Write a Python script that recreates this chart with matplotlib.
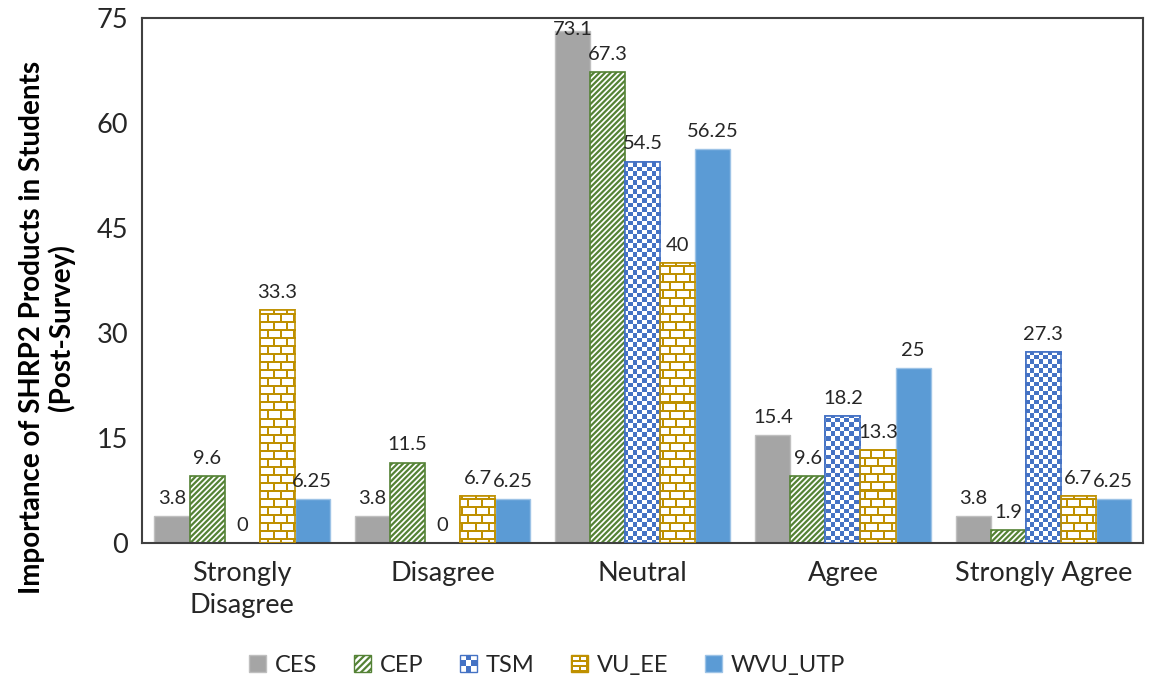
import numpy as np
import matplotlib
matplotlib.use("Agg")
import matplotlib.pyplot as plt
from matplotlib.patches import Rectangle
from matplotlib.legend_handler import HandlerBase

plt.rcParams['font.family'] = ['Lato', 'DejaVu Sans']
plt.rcParams['hatch.linewidth'] = 1.6

categories = ["Strongly\nDisagree", "Disagree", "Neutral", "Agree", "Strongly Agree"]
series = ["CES", "CEP", "TSM", "VU_EE", "WVU_UTP"]
ces = [3.8, 3.8, 73.1, 15.4, 3.8]
cep = [9.6, 11.5, 67.3, 9.6, 1.9]
tsm = [0, 0, 54.5, 18.2, 27.3]
vu_ee = [33.3, 6.7, 40, 13.3, 6.7]
wvu_utp = [6.25, 6.25, 56.25, 25, 6.25]
label_text = [
    ["3.8", "3.8", "73.1", "15.4", "3.8"],
    ["9.6", "11.5", "67.3", "9.6", "1.9"],
    ["0", "0", "54.5", "18.2", "27.3"],
    ["33.3", "6.7", "40", "13.3", "6.7"],
    ["6.25", "6.25", "56.25", "25", "6.25"],
]
yticks = [0, 15, 30, 45, 60, 75]

GREY = '#A5A5A5'
GREEN = '#548235'
BLUE = '#4472C4'
GOLD = '#BF9000'
LBLUE = '#5B9BD5'
TXT = '#262626'


def rgba(hexcol):
    return np.array(matplotlib.colors.to_rgba(hexcol))


def checker_texture(h, w, cell=4.5):
    yy, xx = np.mgrid[0:h, 0:w]
    mask = ((np.floor(yy / cell) + np.floor(xx / cell)) % 2).astype(bool)
    tex = np.ones((h, w, 4))
    tex[mask] = rgba(BLUE)
    return tex


def brick_texture(h, w, bh=8, bw=13, line=2):
    yy, xx = np.mgrid[0:h, 0:w]
    row = yy // bh
    horiz = (yy % bh) < line
    shift = (row % 2) * (bw // 2)
    vert = ((xx + shift) % bw) < line
    tex = np.ones((h, w, 4))
    tex[horiz | vert] = rgba(GOLD)
    return tex


fig = plt.figure(figsize=(11.59, 6.87), dpi=100)
ax = fig.add_axes([0.1225, 0.2096, 0.864, 0.7642])

n = len(categories)
x = np.arange(n)
bw = 0.175
offsets = (np.arange(5) - 2) * bw
values = [ces, cep, tsm, vu_ee, wvu_utp]
ylim = (0, 75)
xlim = (-0.5, n - 0.5)

styles = [
    dict(facecolor=GREY, edgecolor='#BFBFBF', linewidth=1.0),
    dict(facecolor='white', edgecolor=GREEN, hatch='//////', linewidth=1.2),
    dict(facecolor='white', edgecolor=BLUE, linewidth=1.2),
    dict(facecolor='white', edgecolor=GOLD, linewidth=1.2),
    dict(facecolor=LBLUE, edgecolor='#9DC3E6', linewidth=1.0),
]

# pixel-sized textures spanning the whole axes, clipped to each bar
fig.canvas.draw()
bbox = ax.get_window_extent()
H, W = int(round(bbox.height)), int(round(bbox.width))
textures = {2: checker_texture(H, W), 3: brick_texture(H, W)}

for i, (vals, st) in enumerate(zip(values, styles)):
    bars = ax.bar(x + offsets[i], vals, width=bw, zorder=2, **st)
    for b, v in zip(bars, vals):
        if v == 0:
            b.set_visible(False)
    if i in textures:
        for b, v in zip(bars, vals):
            if v == 0:
                continue
            im = ax.imshow(textures[i], extent=[xlim[0], xlim[1], ylim[0], ylim[1]],
                           aspect='auto', interpolation='nearest', zorder=2.5, origin='upper')
            im.set_clip_path(b)
            # outline above the texture
            ax.add_patch(Rectangle(b.get_xy(), b.get_width(), b.get_height(), fill=False,
                                   edgecolor=st['edgecolor'], linewidth=st['linewidth'], zorder=3))
    for xi, v, t in zip(x, vals, label_text[i]):
        if v > ylim[1] - 5:
            # no room above the bar: hang the label just under the top frame
            ax.annotate(t, (xi + offsets[i], ylim[1]), xytext=(0, -2), textcoords='offset points',
                        ha='center', va='top', fontsize=14.5, color=TXT, zorder=5)
        else:
            ax.annotate(t, (xi + offsets[i], v), xytext=(0, 6.5), textcoords='offset points',
                        ha='center', va='bottom', fontsize=14.5, color=TXT, zorder=5)

ax.set_xlim(*xlim)
ax.set_ylim(*ylim)
ax.set_yticks(yticks)
ax.set_xticks(x)
ax.set_xticklabels(categories, fontsize=19.5, linespacing=1.35, color=TXT)
ax.tick_params(axis='y', labelsize=19.5, length=0, pad=10, labelcolor=TXT)
ax.tick_params(axis='x', length=0, pad=13)
for sp in ax.spines.values():
    sp.set_color('#404040')
    sp.set_linewidth(1.5)

ax.set_ylabel("Importance of SHRP2 Products in Students\n(Post-Survey)",
              fontsize=20, fontweight='bold', color='black', linespacing=1.1)
ax.yaxis.set_label_coords(-0.067, 0.41)


class CheckerHandler(HandlerBase):
    def __init__(self, color, n=3):
        super().__init__()
        self.color = color
        self.n = n

    def create_artists(self, legend, orig_handle, xdescent, ydescent,
                       width, height, fontsize, trans):
        s = min(width, height)
        x0, y0 = -xdescent, -ydescent
        arts = [Rectangle((x0, y0), s, s, facecolor='white', edgecolor=self.color,
                          linewidth=1.0, transform=trans)]
        c = s / self.n
        for r in range(self.n):
            for q in range(self.n):
                if (r + q) % 2:
                    arts.append(Rectangle((x0 + q * c, y0 + r * c), c, c,
                                          facecolor=self.color, edgecolor='none',
                                          transform=trans))
        return arts


class BrickHandler(HandlerBase):
    def __init__(self, color):
        super().__init__()
        self.color = color

    def create_artists(self, legend, orig_handle, xdescent, ydescent,
                       width, height, fontsize, trans):
        s = min(width, height)
        x0, y0 = -xdescent, -ydescent
        arts = [Rectangle((x0, y0), s, s, facecolor=self.color, edgecolor=self.color,
                          linewidth=1.0, transform=trans)]
        m = s * 0.14
        rh = (s - 4 * m) / 3
        for r in range(3):
            yb = y0 + m + r * (rh + m)
            if r % 2:
                arts.append(Rectangle((x0 + m, yb), s - 2 * m, rh, facecolor='white',
                                      edgecolor='none', transform=trans))
            else:
                hw = (s - 3 * m) / 2
                for q in range(2):
                    arts.append(Rectangle((x0 + m + q * (hw + m), yb), hw, rh,
                                          facecolor='white', edgecolor='none',
                                          transform=trans))
        return arts


class SquareHandler(HandlerBase):
    def __init__(self, **kw):
        super().__init__()
        self.kw = kw

    def create_artists(self, legend, orig_handle, xdescent, ydescent,
                       width, height, fontsize, trans):
        s = min(width, height)
        return [Rectangle((-xdescent, -ydescent), s, s, transform=trans, **self.kw)]


handles = [Rectangle((0, 0), 1, 1) for _ in series]
handler_map = {
    handles[0]: SquareHandler(facecolor=GREY, edgecolor='#BFBFBF'),
    handles[1]: SquareHandler(facecolor='white', edgecolor=GREEN, hatch='/////'),
    handles[2]: CheckerHandler(BLUE),
    handles[3]: BrickHandler(GOLD),
    handles[4]: SquareHandler(facecolor=LBLUE, edgecolor='#9DC3E6'),
}
leg = fig.legend(handles, series, handler_map=handler_map, loc='center',
                 bbox_to_anchor=(0.472, 0.032), ncol=5, frameon=False, fontsize=17,
                 handlelength=0.75, handleheight=0.75, handletextpad=0.35,
                 columnspacing=1.55)
for t in leg.get_texts():
    t.set_color(TXT)

fig.savefig("out.png", dpi=100)
